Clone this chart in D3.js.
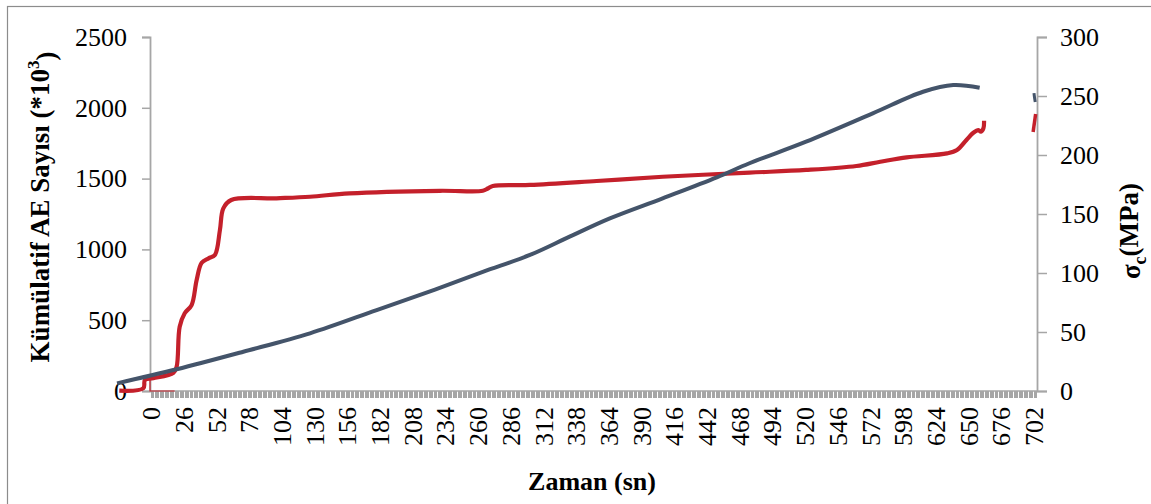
<!DOCTYPE html>
<html>
<head>
<meta charset="utf-8">
<script src="https://cdn.jsdelivr.net/npm/d3@7"></script>
<style>
  html, body { margin: 0; padding: 0; background: #fff; }
  svg { display: block; }
  text { font-family: "Liberation Serif", "Times New Roman", serif; fill: #000; }
</style>
</head>
<body>
<svg id="chart" width="1151" height="504"></svg>
<script>
// ---------------- data ----------------
// Kümülatif AE Sayısı (left axis), time in s as read on the category labels
const aeTime  = [-26, -6.9, -5.6, 1, 17, 19.6, 22, 26, 31.5, 35.5, 39.5, 45, 50, 54, 56.7, 63, 99, 125.6, 157, 229, 263, 267, 271, 300.5, 353.5, 406, 475, 520, 560, 579, 600, 632, 640, 647.5, 653, 657, 659, 661, 661.5];
const aeValue = [2, 19, 78, 90, 129, 172, 454, 549, 607, 784, 906, 937, 960, 1137, 1290, 1349, 1361, 1372, 1396, 1414, 1414, 1430, 1448, 1455, 1483, 1513, 1542, 1561, 1589, 1619, 1650, 1678, 1702, 1773, 1824, 1843, 1831, 1855, 1909];
// clipped AE fragment at the right axis
const aeTailTime  = [700.5, 702.5];
const aeTailValue = [1829, 1956];
// thin AE trace along the base
const aeBaseTime  = [-1.6, -1.6, 18];
const aeBaseValue = [78, 0, 0];

// σc (MPa) (right axis)
const sigTime  = [-27.8, 19.6, 72.6, 125.6, 178.6, 225, 263, 300.5, 332, 364, 406, 449, 475, 520, 573, 613, 637, 658];
const sigValue = [6.5, 18.4, 33.3, 48.9, 68.6, 86, 101, 115.3, 130.8, 146.3, 163.3, 181.1, 193, 211.3, 235.3, 253.6, 259.3, 257];
const sigTailTime  = [701.2, 701.6, 702.2];
const sigTailValue = [252.5, 249, 245];

// tick labels
const xTickLabels = [0, 26, 52, 78, 104, 130, 156, 182, 208, 234, 260, 286, 312, 338, 364, 390, 416, 442, 468, 494, 520, 546, 572, 598, 624, 650, 676, 702];
const leftTicks  = [0, 500, 1000, 1500, 2000, 2500];
const rightTicks = [0, 50, 100, 150, 200, 250, 300];

// ---------------- layout ----------------
const svg = d3.select("#chart");
const axisColor = "#a6a6a6";
const redColor = "#c4202b";
const blueColor = "#44546a";

svg.append("rect").attr("x", 0).attr("y", 0).attr("width", 1151).attr("height", 504).attr("fill", "#fff");
svg.append("rect").attr("x", 7.5).attr("y", 6.5).attr("width", 1160).attr("height", 510)
   .attr("fill", "none").attr("stroke", "#8c8c8c").attr("stroke-width", 1.2);

const x = d3.scaleLinear().domain([0, 702]).range([152, 1035]);
const yL = d3.scaleLinear().domain([0, 2500]).range([391, 37]);
const yR = d3.scaleLinear().domain([0, 300]).range([391, 37]);
const axL = 150, axR = 1037, axB = 391;

// x axis hatch ticks (one per category)
const hatch = d3.range(-1, 704);
svg.append("g").selectAll("line").data(hatch).join("line")
  .attr("x1", d => Math.round(x(d)) + 0.5).attr("x2", d => Math.round(x(d)) + 0.5)
  .attr("y1", axB).attr("y2", axB + 7)
  .attr("stroke", axisColor).attr("stroke-width", 1).attr("shape-rendering", "crispEdges");
svg.append("line").attr("x1", axL).attr("x2", axR).attr("y1", axB).attr("y2", axB)
  .attr("stroke", axisColor).attr("stroke-width", 1.5);

// left axis
const gL = svg.append("g").attr("transform", `translate(${axL},0)`)
  .call(d3.axisLeft(yL).tickValues(leftTicks).tickSize(8).tickPadding(15).tickFormat(d3.format("d")));
// right axis
const gR = svg.append("g").attr("transform", `translate(${axR},0)`)
  .call(d3.axisRight(yR).tickValues(rightTicks).tickSize(10).tickPadding(13).tickFormat(d3.format("d")));
[gL, gR].forEach(g => {
  g.select(".domain").attr("stroke", axisColor).attr("stroke-width", 1.8);
  g.selectAll(".tick line").attr("stroke", axisColor).attr("stroke-width", 1.5);
  g.selectAll(".tick text").attr("font-size", 26).attr("font-family", "Liberation Serif").attr("fill", "#000");
});

// x tick labels
svg.append("g").selectAll("text").data(xTickLabels).join("text")
  .attr("transform", d => `translate(${x(d) - 1},407) rotate(-90)`)
  .attr("text-anchor", "end").attr("dy", "0.35em")
  .attr("font-size", 26).text(d => d);

// titles
svg.append("text").attr("transform", "translate(40,207) rotate(-90)")
  .attr("text-anchor", "middle").attr("dy", "0.35em")
  .attr("font-size", 27).attr("font-weight", "bold")
  .call(t => {
    t.append("tspan").text("Kümülatif AE Sayısı (*10");
    t.append("tspan").attr("font-size", 17).attr("dy", "-0.6em").text("3");
    t.append("tspan").attr("dy", "0.6em").text(")");
  });
svg.append("text").attr("transform", "translate(1131,231) rotate(-90)")
  .attr("text-anchor", "middle").attr("dy", "0.35em")
  .attr("font-size", 27).attr("font-weight", "bold")
  .call(t => {
    t.append("tspan").text("σ");
    t.append("tspan").attr("font-size", 18).attr("dy", "0.3em").text("c");
    t.append("tspan").attr("dy", "-0.3em").text("(MPa)");
  });
svg.append("text").attr("x", 592).attr("y", 490).attr("text-anchor", "middle")
  .attr("font-size", 26).attr("font-weight", "bold").text("Zaman (sn)");

// ---------------- lines ----------------
const zip = (a, b) => a.map((d, i) => [d, b[i]]);
const lineL = d3.line().x(d => x(d[0])).y(d => yL(d[1])).curve(d3.curveCatmullRom.alpha(0.5));
const lineR = d3.line().x(d => x(d[0])).y(d => yR(d[1])).curve(d3.curveCatmullRom.alpha(0.5));
const lineLin = d3.line().x(d => x(d[0])).y(d => yL(d[1]));

svg.append("path").datum(zip(aeBaseTime, aeBaseValue)).attr("d", lineLin)
  .attr("fill", "none").attr("stroke", redColor).attr("stroke-width", 1.2);
svg.append("path").datum(zip(aeTime, aeValue)).attr("d", lineL)
  .attr("fill", "none").attr("stroke", redColor).attr("stroke-width", 4.2).attr("stroke-linejoin", "round");
svg.append("path").datum(zip(aeTailTime, aeTailValue)).attr("d", lineL)
  .attr("fill", "none").attr("stroke", redColor).attr("stroke-width", 3.5);
svg.append("path").datum(zip(sigTime, sigValue)).attr("d", lineR)
  .attr("fill", "none").attr("stroke", blueColor).attr("stroke-width", 4).attr("stroke-linejoin", "round");
svg.append("path").datum(zip(sigTailTime, sigTailValue)).attr("d", lineR)
  .attr("fill", "none").attr("stroke", blueColor).attr("stroke-width", 3);
</script>
</body>
</html>
